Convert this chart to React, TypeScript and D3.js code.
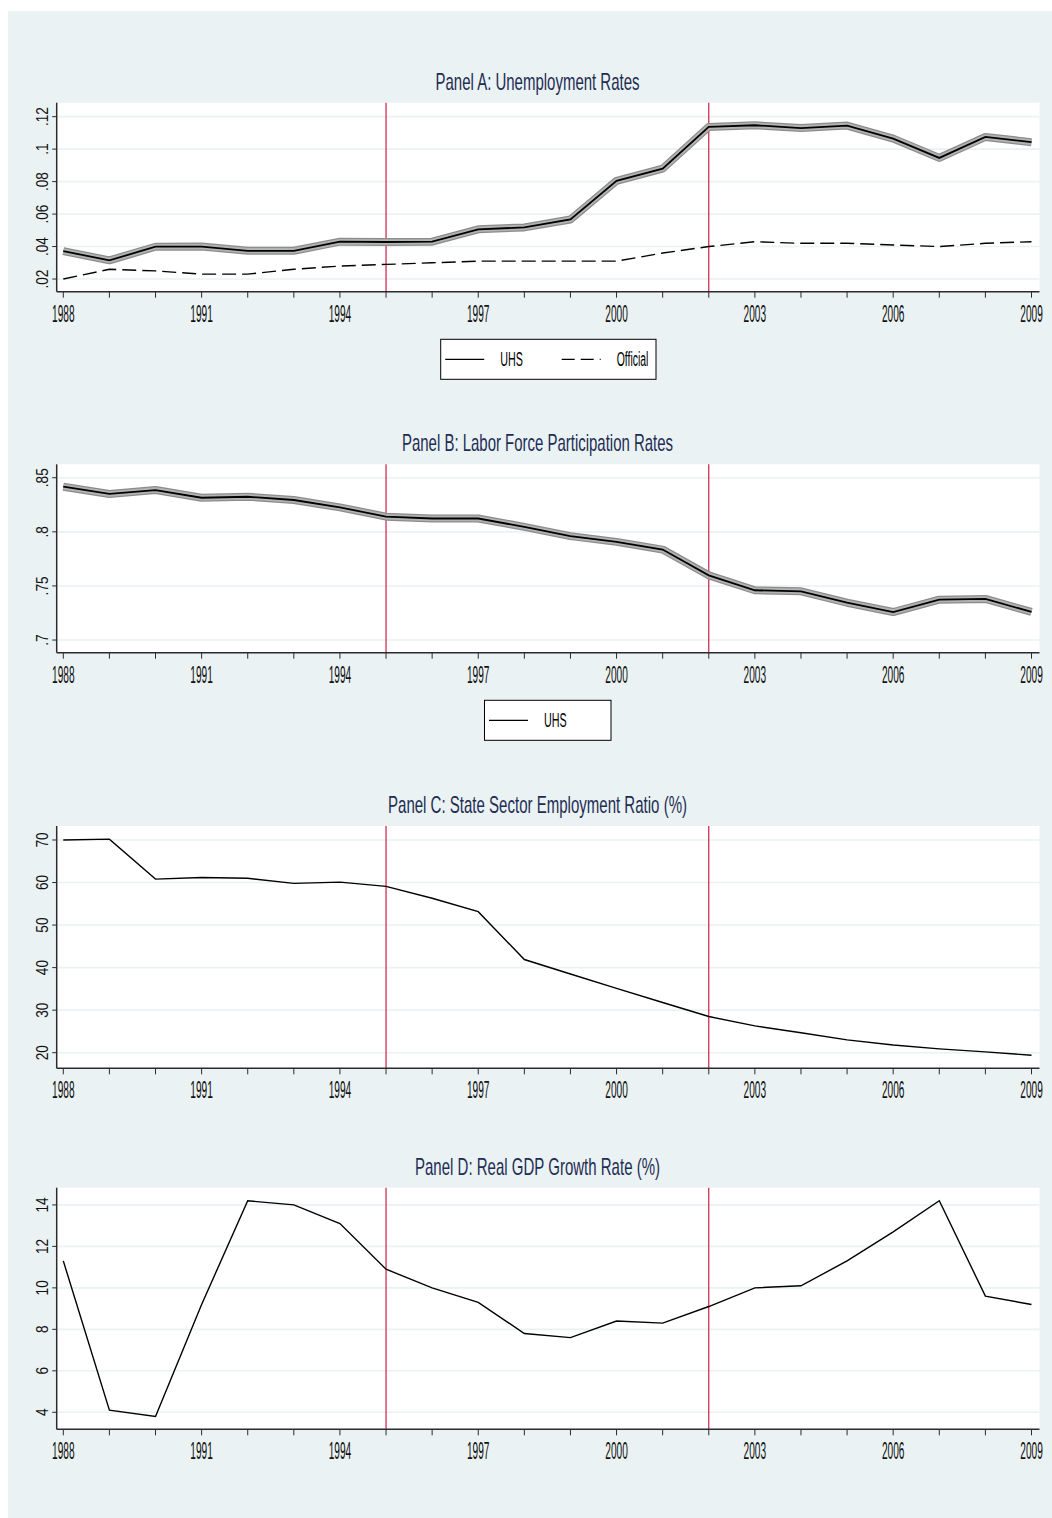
import React, { useEffect, useRef } from 'react';
import * as d3 from 'd3';

// years on the x axis, labelled every third year
const years = [1988, 1989, 1990, 1991, 1992, 1993, 1994, 1995, 1996, 1997, 1998,
  1999, 2000, 2001, 2002, 2003, 2004, 2005, 2006, 2007, 2008, 2009];
const labelledYears = [1988, 1991, 1994, 1997, 2000, 2003, 2006, 2009];
const reformYears = [1995, 2002];

// Panel A
const uhsUnemployment = [0.0372, 0.0315, 0.0399, 0.0400, 0.0374, 0.0374, 0.0430, 0.0428,
  0.0430, 0.0506, 0.0518, 0.0567, 0.0805, 0.0880, 0.1137, 0.1147, 0.1130, 0.1145,
  0.1065, 0.0946, 0.1075, 0.1043];
const officialUnemployment = [0.020, 0.026, 0.025, 0.023, 0.023, 0.026, 0.028, 0.029,
  0.030, 0.031, 0.031, 0.031, 0.031, 0.036, 0.040, 0.043, 0.042, 0.042, 0.041, 0.040,
  0.042, 0.043];
const unempTicks = [0.02, 0.04, 0.06, 0.08, 0.1, 0.12];
const unempLabels = ['.02', '.04', '.06', '.08', '.1', '.12'];

// Panel B
const uhsParticipation = [0.8417, 0.8350, 0.8386, 0.8315, 0.8324, 0.8294, 0.8226, 0.8140,
  0.8123, 0.8123, 0.8046, 0.7960, 0.7907, 0.7836, 0.7598, 0.7460, 0.7450, 0.7345,
  0.7259, 0.7373, 0.7380, 0.7260];
const lfpTicks = [0.7, 0.75, 0.8, 0.85];
const lfpLabels = ['.7', '.75', '.8', '.85'];

// Panel C
const stateSectorShare = [70.0, 70.2, 60.8, 61.2, 61.0, 59.8, 60.1, 59.1, 56.3, 53.15,
  41.9, 38.5, 35.1, 31.8, 28.5, 26.3, 24.7, 23.0, 21.8, 20.9, 20.2, 19.4];
const stateTicks = [20, 30, 40, 50, 60, 70];

// Panel D
const gdpGrowth = [11.3, 4.1, 3.8, 9.2, 14.2, 14.0, 13.1, 10.9, 10.0, 9.3, 7.8, 7.6,
  8.4, 8.3, 9.1, 10.0, 10.1, 11.3, 12.7, 14.2, 9.6, 9.2];
const gdpTicks = [4, 6, 8, 10, 12, 14];

const W = 1052;
const H = 1518;
const plotLeft = 56.7;
const plotRight = 1039.5;
const BG = '#eaf2f3';
const RED = '#cc1f47';
const SANS = '"Liberation Sans", Arial, Helvetica, sans-serif';

type Series = { values: number[]; style: 'band' | 'solid' | 'dash' | 'thin' };
type LegendItem = { label: string; style: 'solid' | 'dash'; textWidth: number };
interface Panel {
  title: string;
  titleWidth: number;
  top: number;
  height: number;
  domain: [number, number];
  ticks: number[];
  labels: string[];
  series: Series[];
  legend?: { x: number; width: number; items: LegendItem[] };
}

const panels: Panel[] = [
  {
    title: 'Panel A: Unemployment Rates', titleWidth: 204,
    top: 102.7, height: 189, domain: [0.0122, 0.1286],
    ticks: unempTicks, labels: unempLabels,
    series: [
      { values: officialUnemployment, style: 'dash' },
      { values: uhsUnemployment, style: 'band' },
    ],
    legend: {
      x: 440.7, width: 215.3,
      items: [
        { label: 'UHS', style: 'solid', textWidth: 22.7 },
        { label: 'Official', style: 'dash', textWidth: 31.7 },
      ],
    },
  },
  {
    title: 'Panel B: Labor Force Participation Rates', titleWidth: 271,
    top: 464.3, height: 188.4, domain: [0.6883, 0.8624],
    ticks: lfpTicks, labels: lfpLabels,
    series: [{ values: uhsParticipation, style: 'band' }],
    legend: {
      x: 484.5, width: 126.5,
      items: [{ label: 'UHS', style: 'solid', textWidth: 22.7 }],
    },
  },
  {
    title: 'Panel C: State Sector Employment Ratio (%)', titleWidth: 299,
    top: 826, height: 242.3, domain: [16.33, 73.29],
    ticks: stateTicks, labels: stateTicks.map(String),
    series: [{ values: stateSectorShare, style: 'thin' }],
  },
  {
    title: 'Panel D: Real GDP Growth Rate (%)', titleWidth: 245,
    top: 1187.7, height: 241.6, domain: [3.18, 14.83],
    ticks: gdpTicks, labels: gdpTicks.map(String),
    series: [{ values: gdpGrowth, style: 'thin' }],
  },
];

const App: React.FC = () => {
  const svgRef = useRef<SVGSVGElement>(null);

  useEffect(() => {
    if (!svgRef.current) return;
    const svg = d3.select(svgRef.current);
    svg.selectAll('*').remove();

    svg.append('rect')
      .attr('x', 8).attr('y', 11)
      .attr('width', W - 8).attr('height', H - 11)
      .attr('fill', BG);

    const x = d3.scaleLinear().domain([1988, 2009]).range([63.3, 1031.5]);

    panels.forEach(p => {
      const bottom = p.top + p.height;
      const y = d3.scaleLinear().domain(p.domain).range([bottom, p.top]);
      const g = svg.append('g');

      // plot region
      g.append('rect')
        .attr('x', plotLeft).attr('y', p.top)
        .attr('width', plotRight - plotLeft).attr('height', p.height)
        .attr('fill', '#fff');

      // gridlines
      g.selectAll('line.grid')
        .data(p.ticks)
        .enter()
        .append('line')
        .attr('x1', plotLeft).attr('x2', plotRight)
        .attr('y1', d => y(d)).attr('y2', d => y(d))
        .attr('stroke', BG)
        .attr('stroke-width', 1.6);

      // reform year markers
      g.selectAll('line.reform')
        .data(reformYears)
        .enter()
        .append('line')
        .attr('x1', d => x(d)).attr('x2', d => x(d))
        .attr('y1', p.top).attr('y2', bottom)
        .attr('stroke', RED)
        .attr('stroke-width', 1.2);

      const line = d3.line<number>()
        .x((_, i) => x(years[i]))
        .y(d => y(d));

      p.series.forEach(s => {
        if (s.style === 'band') {
          g.append('path').datum(s.values)
            .attr('fill', 'none').attr('stroke', '#8c8c8c')
            .attr('stroke-width', 8).attr('stroke-linejoin', 'round')
            .attr('d', line);
          g.append('path').datum(s.values)
            .attr('fill', 'none').attr('stroke', '#b2b2b2')
            .attr('stroke-width', 5.5).attr('stroke-linejoin', 'round')
            .attr('d', line);
          g.append('path').datum(s.values)
            .attr('fill', 'none').attr('stroke', '#000')
            .attr('stroke-width', 1.8)
            .attr('d', line);
        } else {
          g.append('path').datum(s.values)
            .attr('fill', 'none').attr('stroke', '#000')
            .attr('stroke-width', s.style === 'thin' ? 1.4 : 1.4)
            .attr('stroke-dasharray', s.style === 'dash' ? '14,6' : null)
            .attr('d', line);
        }
      });

      // x axis
      g.append('line')
        .attr('x1', plotLeft).attr('x2', plotRight)
        .attr('y1', bottom).attr('y2', bottom)
        .attr('stroke', '#2b2b2b').attr('stroke-width', 1.5);
      g.selectAll('line.xtick')
        .data(years)
        .enter()
        .append('line')
        .attr('x1', d => x(d)).attr('x2', d => x(d))
        .attr('y1', bottom).attr('y2', bottom + 6)
        .attr('stroke', '#2b2b2b').attr('stroke-width', 1);
      g.selectAll('text.xlab')
        .data(labelledYears)
        .enter()
        .append('text')
        .attr('x', d => x(d))
        .attr('y', bottom + 30)
        .attr('text-anchor', 'middle')
        .attr('font-family', SANS)
        .attr('font-size', 24)
        .attr('textLength', 22.5)
        .attr('lengthAdjust', 'spacingAndGlyphs')
        .attr('fill', '#111')
        .text(d => String(d));

      // y axis
      g.append('line')
        .attr('x1', plotLeft).attr('x2', plotLeft)
        .attr('y1', p.top).attr('y2', bottom)
        .attr('stroke', '#2b2b2b').attr('stroke-width', 1.5);
      g.selectAll('line.ytick')
        .data(p.ticks)
        .enter()
        .append('line')
        .attr('x1', plotLeft - 4.5).attr('x2', plotLeft)
        .attr('y1', d => y(d)).attr('y2', d => y(d))
        .attr('stroke', '#2b2b2b').attr('stroke-width', 1);
      const ylab = g.selectAll('text.ylab')
        .data(p.ticks)
        .enter()
        .append('text')
        .attr('transform', d => `translate(48,${y(d)}) rotate(-90)`)
        .attr('text-anchor', 'middle')
        .attr('font-family', SANS)
        .attr('font-size', 16)
        .attr('fill', '#111')
        .text((_, i) => p.labels[i]);
      // squeeze the rotated labels a little, as in the original
      ylab.each(function () {
        const el = this as SVGTextElement;
        const len = el.getComputedTextLength();
        if (len > 0) {
          d3.select(el)
            .attr('textLength', len * 0.85)
            .attr('lengthAdjust', 'spacingAndGlyphs');
        }
      });

      // title
      g.append('text')
        .attr('x', 537.5)
        .attr('y', p.top - 13)
        .attr('text-anchor', 'middle')
        .attr('font-family', SANS)
        .attr('font-size', 24)
        .attr('textLength', p.titleWidth)
        .attr('lengthAdjust', 'spacingAndGlyphs')
        .attr('fill', '#1e2d53')
        .text(p.title);

      // legend
      if (p.legend) {
        const lt = bottom + 47.6;
        const cy = lt + 20;
        g.append('rect')
          .attr('x', p.legend.x).attr('y', lt)
          .attr('width', p.legend.width).attr('height', 40)
          .attr('fill', '#fff')
          .attr('stroke', '#000').attr('stroke-width', 1);
        p.legend.items.forEach((item, i) => {
          const ox = p.legend!.x + 4.5 + i * 116.5;
          g.append('line')
            .attr('x1', ox).attr('x2', ox + 39)
            .attr('y1', cy).attr('y2', cy)
            .attr('stroke', '#000').attr('stroke-width', 1.3)
            .attr('stroke-dasharray', item.style === 'dash' ? '13,6' : null);
          g.append('text')
            .attr('x', ox + 55)
            .attr('y', cy + 7)
            .attr('font-family', SANS)
            .attr('font-size', 20)
            .attr('textLength', item.textWidth)
            .attr('lengthAdjust', 'spacingAndGlyphs')
            .attr('fill', '#000')
            .text(item.label);
        });
      }
    });
  }, []);

  return (
    <svg
      ref={svgRef}
      width={W}
      height={H}
      style={{ position: 'absolute', left: 0, top: 0, background: '#fff' }}
    />
  );
};

export default App;
